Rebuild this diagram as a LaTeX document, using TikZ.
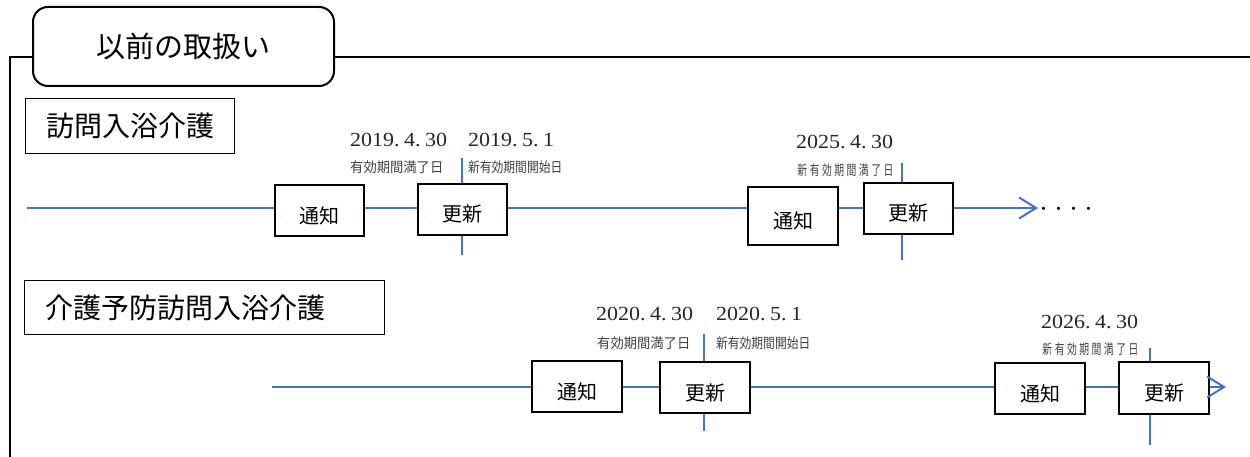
\documentclass[tikz,border=0pt]{standalone}
\usepackage{fontspec}
\setmainfont{Liberation Serif}
\newfontfamily\jp{Noto Sans CJK JP}
\usetikzlibrary{arrows.meta}
\definecolor{tlblue}{RGB}{68,114,196}
\newcommand\ymd[3]{\scalebox{1.1}[1]{#1.\hspace{4pt}#2.\hspace{4pt}#3}}
\newcommand\jch[1]{\makebox[12.3pt]{\scalebox{0.7}[1]{#1}}}
\begin{document}
\begin{tikzpicture}[x=1pt,y=-1pt,
  tl/.style={draw=tlblue,line width=2pt},
  tlarrow/.style={draw=tlblue,line width=2pt,-{Straight Barb[length=17pt,width=21pt,line width=2pt]}},
  frameline/.style={draw=black,line width=2pt},
  titlebox/.style={draw=black,line width=2pt,rounded corners=15pt,fill=white,minimum width=301pt,minimum height=79pt,inner sep=0pt,font=\jp\fontsize{29}{34}\selectfont},
  catbox/.style={draw=black,line width=1.3pt,fill=white,inner xsep=21pt,inner ysep=0pt,align=left,font=\jp\fontsize{28}{33}\selectfont},
  evbox/.style={draw=black,line width=1.3pt,fill=white,inner sep=0pt,minimum width=89pt,minimum height=51pt,text height=27pt,text depth=2pt,font=\jp\fontsize{20}{24}\selectfont},
  datelbl/.style={anchor=base west,inner sep=0pt,font=\fontsize{20}{24}\selectfont,text=black!85},
  smalllbl/.style={anchor=west,inner sep=0pt,font=\jp\fontsize{14}{16}\selectfont,text=black!75},
  dotlbl/.style={anchor=west,inner sep=0pt,font=\jp\fontsize{15}{18}\selectfont}
]
\useasboundingbox (0,0) rectangle (1250,457);

% frame and title
\node[titlebox] (title) at (183.5,46.5) {以前の取扱い};
\coordinate (fbot) at (10,460);
\coordinate (ftop) at (10,57);
\coordinate (fright) at (1252,57);
\draw[frameline] (fbot) -- (ftop) -- (title.west |- ftop);
\draw[frameline] (title.east |- ftop) -- (fright);

% category boxes
\node[catbox,text width=167pt,minimum height=55pt,anchor=north west] (cat1) at (25,98) {訪問入浴介護};
\node[catbox,text width=318pt,minimum height=54pt,anchor=north west] (cat2) at (24,280) {介護予防訪問入浴介護};

% ---- timeline 1 ----
\node[evbox] (n1) at (319.5,210.5) {通知};
\node[evbox] (r1) at (462.5,209.5) {更新};
\node[evbox,minimum width=90pt,minimum height=58pt] (n2) at (793,216) {通知};
\node[evbox] (r2) at (908.5,208.5) {更新};

\coordinate (s1) at (27,208);
\coordinate (e1) at (1038,208);
\draw[tl] (s1) -- (n1.west |- s1);
\draw[tl] (n1.east |- s1) -- (r1.west |- s1);
\draw[tl] (r1.east |- s1) -- (n2.west |- s1);
\draw[tl] (n2.east |- s1) -- (r2.west |- s1);
\draw[tlarrow] (r2.east |- s1) -- (e1);
\node[dotlbl] (dots1) at (1036,211) {・・・・};

\coordinate (v1t) at (462,158);
\coordinate (v1b) at (462,255);
\draw[tl] (v1t) -- (r1.north -| v1t);
\draw[tl] (r1.south -| v1t) -- (v1b);
\coordinate (v2t) at (902,163);
\coordinate (v2b) at (902,260);
\draw[tl] (v2t) -- (r2.north -| v2t);
\draw[tl] (r2.south -| v2t) -- (v2b);

\node[datelbl] (d1) at (350,147) {\ymd{2019}{4}{30}};
\node[datelbl] (d2) at (468,147) {\ymd{2019}{5}{1}};
\node[datelbl] (d3) at (796,149) {\ymd{2025}{4}{30}};
\node[smalllbl] (l1) at (350,167) {\scalebox{0.95}[1]{有効期間満了日}};
\node[smalllbl] (l2) at (468,167) {\scalebox{0.84}[1]{新有効期間開始日}};
\node[smalllbl] (l3) at (796,170) {\jch{新}\jch{有}\jch{効}\jch{期}\jch{間}\jch{満}\jch{了}\jch{日}};

% ---- timeline 2 ----
\node[evbox,minimum width=90pt] (n3) at (577,386.5) {通知};
\node[evbox,minimum width=90pt] (r3) at (705,387.5) {更新};
\node[evbox,minimum width=90pt] (n4) at (1040,388.5) {通知};
\node[evbox,minimum width=90pt,minimum height=52pt] (r4) at (1164,388) {更新};

\coordinate (s2) at (272,387);
\coordinate (e2) at (1226,387);
\draw[tl] (s2) -- (n3.west |- s2);
\draw[tl] (n3.east |- s2) -- (r3.west |- s2);
\draw[tl] (r3.east |- s2) -- (n4.west |- s2);
\draw[tl] (n4.east |- s2) -- (r4.west |- s2);
\draw[tlarrow] (r4.east |- s2) -- (e2);

\coordinate (v3t) at (704,334);
\coordinate (v3b) at (704,431);
\draw[tl] (v3t) -- (r3.north -| v3t);
\draw[tl] (r3.south -| v3t) -- (v3b);
\coordinate (v4t) at (1150,348);
\coordinate (v4b) at (1150,445);
\draw[tl] (v4t) -- (r4.north -| v4t);
\draw[tl] (r4.south -| v4t) -- (v4b);

\node[datelbl] (d4) at (596,320) {\ymd{2020}{4}{30}};
\node[datelbl] (d5) at (716,320) {\ymd{2020}{5}{1}};
\node[datelbl] (d6) at (1041,328) {\ymd{2026}{4}{30}};
\node[smalllbl] (l4) at (597,343) {\scalebox{0.95}[1]{有効期間満了日}};
\node[smalllbl] (l5) at (716,343) {\scalebox{0.84}[1]{新有効期間開始日}};
\node[smalllbl] (l6) at (1041,349) {\jch{新}\jch{有}\jch{効}\jch{期}\jch{間}\jch{満}\jch{了}\jch{日}};
\end{tikzpicture}
\end{document}
